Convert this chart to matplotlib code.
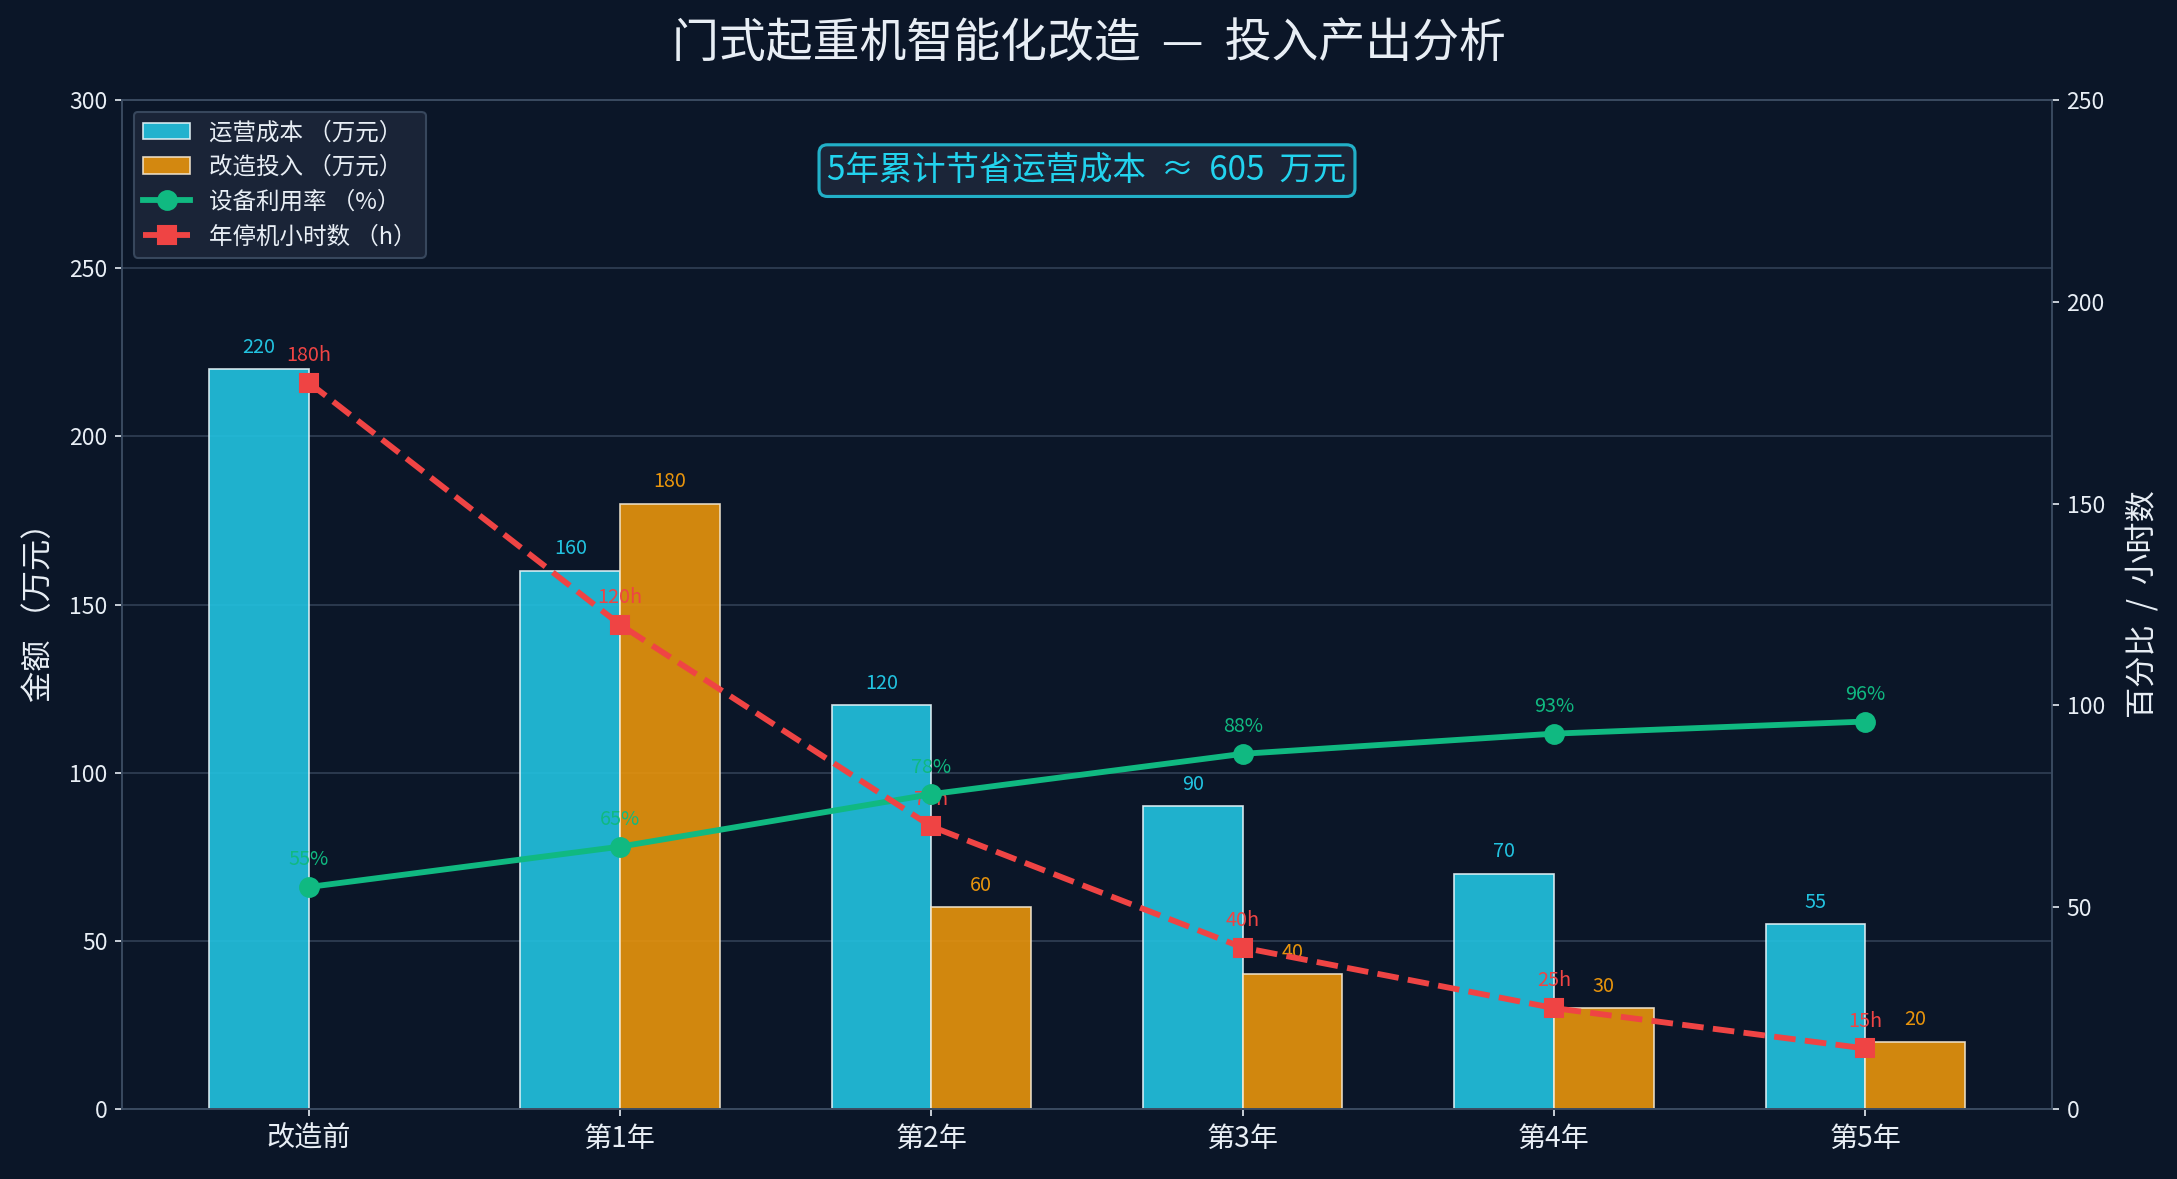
import matplotlib
matplotlib.use("Agg")
import matplotlib.pyplot as plt
import numpy as np

plt.rcParams['font.family'] = ['Noto Sans CJK SC', 'DejaVu Sans']

categories = ['改造前', '第1年', '第2年', '第3年', '第4年', '第5年']
op_cost = [220, 160, 120, 90, 70, 55]
invest = [0, 180, 60, 40, 30, 20]
utilization = [55, 65, 78, 88, 93, 96]
downtime = [180, 120, 70, 40, 25, 15]

BG = '#0b1628'
CYAN = '#22c3e0'
ORANGE = '#e8940c'
GREEN = '#10b981'
RED = '#ef4444'
GRID = '#3a4a60'
TXT = '#e8eef5'

fig = plt.figure(figsize=(2177/150, 1179/150), dpi=150, facecolor=BG)
ax = fig.add_axes([122/2177, 1-1109/1179, (2052-122)/2177, (1109-100)/1179])
ax.set_facecolor(BG)
ax2 = ax.twinx()

x = np.arange(len(categories))
w = 0.32
b1 = ax.bar(x - w/2, op_cost, w, color=CYAN, alpha=0.9, edgecolor='#e6f4f8', linewidth=0.8, label='运营成本 （万元）', zorder=2)
inv_x = [xi + w/2 for xi, v in zip(x, invest) if v > 0]
inv_v = [v for v in invest if v > 0]
b2 = ax.bar(inv_x, inv_v, w, color=ORANGE, alpha=0.9, edgecolor='#f2e6d0', linewidth=0.8, label='改造投入 （万元）', zorder=2)

for xi, v in zip(x, op_cost):
    ax.annotate(f'{v}', (xi - w/2, v), xytext=(0, 5.5), textcoords='offset points', ha='center', va='bottom', color=CYAN, fontsize=9.5)
for xi, v in zip(inv_x, inv_v):
    ax.annotate(f'{v}', (xi, v), xytext=(0, 5.5), textcoords='offset points', ha='center', va='bottom', color=ORANGE, fontsize=9.5)

l1, = ax2.plot(x, utilization, '-o', color=GREEN, lw=2.8, ms=9, label='设备利用率 （%）', zorder=4)
l2, = ax2.plot(x, downtime, '--s', color=RED, lw=2.8, ms=9, label='年停机小时数 （h）', zorder=4)
for xi, v in zip(x, utilization):
    ax2.annotate(f'{v}%', (xi, v), xytext=(0, 8), textcoords='offset points', ha='center', va='bottom', color=GREEN, fontsize=9.5)
for xi, v in zip(x, downtime):
    ax2.annotate(f'{v}h', (xi, v), xytext=(0, 8), textcoords='offset points', ha='center', va='bottom', color=RED, fontsize=9.5)

ax.set_ylim(0, 300)
ax2.set_ylim(0, 250)
ax.set_xlim(-0.6, 5.6)
ax.set_yticks(np.arange(0, 301, 50))
ax2.set_yticks(np.arange(0, 251, 50))
ax.set_xticks(x)
ax.set_xticklabels(categories, fontsize=13.5, color=TXT)
ax.tick_params(axis='y', colors=TXT, labelsize=11)
ax2.tick_params(axis='y', colors=TXT, labelsize=11)
ax.tick_params(axis='x', colors=TXT)
ax.grid(axis='y', color=GRID, linewidth=0.8, alpha=0.8, zorder=0)
ax.set_axisbelow(True)
for a in (ax, ax2):
    for s in a.spines.values():
        s.set_color(GRID)
ax.set_ylabel('金额 （万元）', color=TXT, fontsize=15, labelpad=7)
ax2.set_ylabel('百分比  /  小时数', color=TXT, fontsize=15, labelpad=10)

fig.suptitle('门式起重机智能化改造  —  投入产出分析', color=TXT, fontsize=22.5, y=0.984)

leg = ax.legend(handles=[b1, b2, l1, l2], loc='upper left', fontsize=11.3, facecolor='#1b2538', edgecolor='#3a4a60', labelcolor=TXT, framealpha=0.95)
leg.set_zorder(10)

ax.text(0.5, 0.93, '5年累计节省运营成本  ≈  605  万元', transform=ax.transAxes, ha='center', va='center', color='#22d3ee', fontsize=16,
        bbox=dict(boxstyle='round,pad=0.25', fc='#1b2538', ec='#22b0c8', lw=1.5), zorder=10)

fig.savefig('out.png', dpi=150, facecolor=BG)
